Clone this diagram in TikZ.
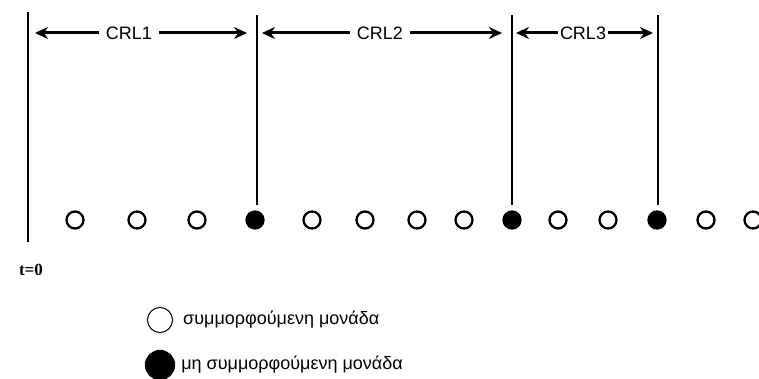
\documentclass[tikz,border=0pt]{standalone}
\usepackage{fontspec}
\setsansfont{Liberation Sans}
\newfontfamily\serifbold{Liberation Serif}
\usetikzlibrary{arrows.meta, positioning}
\tikzset{
    unit/.style={circle, draw, line width=2.3pt, minimum size=17pt, inner sep=0pt},
    defect/.style={unit, fill=black},
    marker/.style={line width=2pt},
    crl/.style={font=\sffamily\fontsize{18}{20}\selectfont, inner ysep=0pt, inner xsep=7pt},
    span/.style={-{Stealth[length=13pt, width=12pt]}, line width=3pt, shorten >=7pt},
    legend/.style={font=\sffamily\fontsize{18}{20}\selectfont, inner sep=0pt},
}

\begin{document}
\begin{tikzpicture}[x=1pt, y=-1pt]
    \useasboundingbox (0,0) rectangle (759,379);

    % production line: conforming and nonconforming units
    \foreach \x/\kind [count=\i] in {75/unit, 137/unit, 197/unit, 255/defect,
            312/unit, 365/unit, 417/unit, 464/unit, 512/defect, 558/unit,
            608/unit, 657/defect, 706/unit, 753/unit}
        \node[\kind] (u\i) at (\x,220) {};

    % markers at t=0 and at each nonconforming unit
    \coordinate (l0) at (28,12);
    \coordinate (t0) at (28,242);
    \coordinate (l1) at (257,15);
    \coordinate (l2) at (512,15);
    \coordinate (l3) at (658,15);
    \draw[marker] (l0) -- (t0);
    \draw[marker] (l1) -- ([yshift=5pt]l1 |- u4.north);
    \draw[marker] (l2) -- ([yshift=5pt]l2 |- u9.north);
    \draw[marker] (l3) -- ([yshift=5pt]l3 |- u12.north);

    \node[below=22pt of t0, xshift=3pt, inner sep=0pt, font=\serifbold\bfseries\fontsize{17}{19}\selectfont] (tzero) {t=0};

    % run lengths
    \node[crl] (crl1) at (129,33) {CRL1};
    \node[crl] (crl2) at (380,33) {CRL2};
    \node[crl, inner xsep=2pt] (crl3) at (583,33) {CRL3};
    \draw[span] (crl1.west) -- (crl1.west -| l0);
    \draw[span, shorten >=10pt] (crl1.east) -- (crl1.east -| l1);
    \draw[span, shorten >=5pt] (crl2.west) -- (crl2.west -| l1);
    \draw[span, shorten >=10pt] (crl2.east) -- (crl2.east -| l2);
    \draw[span, shorten >=4pt] (crl3.west) -- (crl3.west -| l2);
    \draw[span, shorten >=5pt] (crl3.east) -- (crl3.east -| l3);

    % legend
    \node[unit, line width=1pt, minimum size=25pt] (lgopen) at (160,320) {};
    \node[legend, right=10pt of lgopen] (lgopentxt) {συμμορφούμενη μονάδα};
    \node[defect, minimum size=28pt] (lgfull) at (160,365) {};
    \node[legend, right=6pt of lgfull] (lgfulltxt) {μη συμμορφούμενη μονάδα};
\end{tikzpicture}
\end{document}
